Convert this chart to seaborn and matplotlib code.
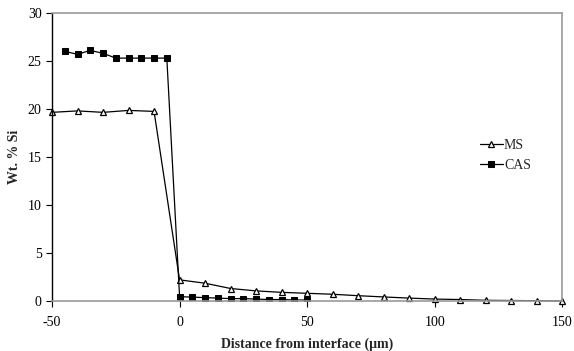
import pandas as pd
import numpy as np
import matplotlib
matplotlib.use("Agg")
import matplotlib.pyplot as plt
import seaborn as sns

sns.set_style("white")
plt.rcParams['font.family'] = ['Liberation Serif', 'DejaVu Serif']
plt.rcParams['axes.unicode_minus'] = False

ms_x = [-50, -40, -30, -20, -10, 0, 10, 20, 30, 40, 50, 60, 70, 80, 90, 100, 110, 120, 130, 140, 150]
ms_y = [19.65, 19.8, 19.65, 19.85, 19.75, 2.2, 1.85, 1.3, 1.05, 0.9, 0.8, 0.7, 0.55, 0.42, 0.3, 0.2,
        0.15, 0.07, 0.05, 0.03, 0.0]

cas_x = [-45, -40, -35, -30, -25, -20, -15, -10, -5, 0, 5, 10, 15, 20, 25, 30, 35, 40, 45, 50]
cas_y = [26.0, 25.7, 26.1, 25.8, 25.3, 25.3, 25.3, 25.3, 25.3,
         0.45, 0.4, 0.35, 0.3, 0.25, 0.25, 0.2, 0.15, 0.15, 0.1, 0.1]

df = pd.concat([
    pd.DataFrame({'x': ms_x, 'y': ms_y, 'series': 'MS'}),
    pd.DataFrame({'x': cas_x, 'y': cas_y, 'series': 'CAS'}),
], ignore_index=True)

fig = plt.figure(figsize=(5.74, 3.51), dpi=100)
ax = fig.add_axes([0.0906, 0.1425, 0.889, 0.8205])

sns.lineplot(data=df[df.series == 'MS'], x='x', y='y', ax=ax, color='black', lw=0.9,
             marker='^', markersize=4.5, markerfacecolor='white', markeredgecolor='black',
             markeredgewidth=0.9, label='MS', clip_on=False)
sns.lineplot(data=df[df.series == 'CAS'], x='x', y='y', ax=ax, color='black', lw=0.9,
             marker='s', markersize=4, markerfacecolor='black', markeredgecolor='black',
             label='CAS')

ax.set_xlim(-50, 150)
ax.set_ylim(0, 30)
ax.set_xticks([-50, 0, 50, 100, 150])
ax.set_yticks([0, 5, 10, 15, 20, 25, 30])

# Рамка: левая ось чёрная, остальные серые (как в Excel)
for side in ['top', 'right', 'bottom']:
    ax.spines[side].set_color('#9a9a9a')
    ax.spines[side].set_linewidth(1.2)
ax.spines['left'].set_color('black')
ax.spines['left'].set_linewidth(1.0)

ax.tick_params(axis='both', direction='out', length=4, width=0.8, colors='black',
               labelsize=10, bottom=True, left=True)
ax.tick_params(axis='x', pad=7)

ax.set_xlabel('Distance from interface (μm)', fontsize=10, fontweight='bold', labelpad=6)
ax.set_ylabel('Wt. % Si', fontsize=10, fontweight='bold', labelpad=5)

leg = ax.legend(loc='upper left', bbox_to_anchor=(0.815, 0.605), frameon=False,
                fontsize=10, handlelength=1.6, handletextpad=0.1, labelspacing=0.5)

plt.savefig("out.png", dpi=100)
plt.close()
